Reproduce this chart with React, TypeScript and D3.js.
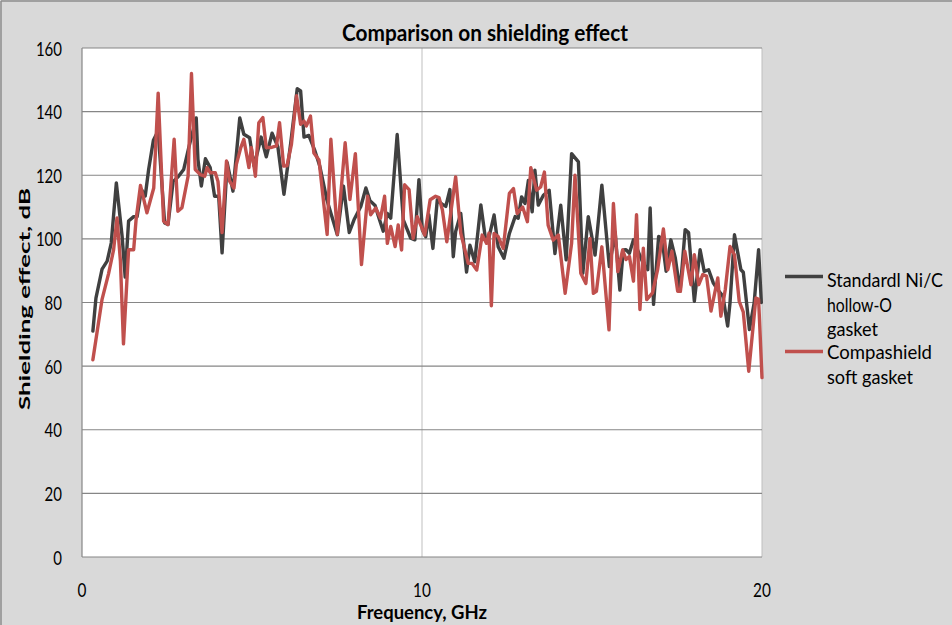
import React from "react";
import * as d3 from "d3";

const titleText = "Comparison on shielding effect";
const xTitle = "Frequency, GHz";
const yTitle = "Shielding effect, dB";
const yTicks = [0, 20, 40, 60, 80, 100, 120, 140, 160];
const xTicks = [0, 10, 20];
const seriesNames = [["Standardl Ni/C", "hollow-O", "gasket"], ["Compashield", "soft gasket"]];
const legendWidths = [[116, 65, 51], [105, 86]];
const seriesColors = ["#404040", "#c0504d"];

// Standard Ni/C hollow-O gasket: [GHz, dB]
const standardData: [number, number][] = [
  [0.32, 71], [0.41, 81.4], [0.59, 90.5], [0.74, 93], [0.86, 98.7], [1.01, 117.6], [1.18, 100.8],
  [1.27, 88], [1.37, 105.6], [1.52, 107], [1.62, 107], [1.75, 115.5], [1.86, 113.5], [1.96, 121.8],
  [2.1, 131], [2.24, 134], [2.43, 105], [2.53, 104.5], [2.68, 118], [2.84, 119.7], [2.99, 121.8],
  [3.14, 128.7], [3.36, 138], [3.41, 125], [3.51, 116.6], [3.63, 125.2], [3.77, 122.4], [3.9, 113.4],
  [4.02, 113.4], [4.12, 95.6], [4.27, 124], [4.44, 115], [4.64, 138], [4.76, 132.9], [4.93, 131.8],
  [5.06, 122.9], [5.27, 132], [5.42, 125.8], [5.59, 133.2], [5.76, 129], [5.94, 114], [6.14, 130.2],
  [6.33, 147.2], [6.43, 146.5], [6.53, 132], [6.67, 132.5], [6.84, 128], [6.99, 123], [7.2, 112.4],
  [7.51, 101.3], [7.69, 116.6], [7.86, 102], [8.0, 106], [8.2, 110.2], [8.35, 116], [8.47, 112],
  [8.62, 110.5], [8.72, 107], [8.86, 102.4], [8.98, 108], [9.08, 106.5], [9.27, 132.8], [9.45, 106],
  [9.67, 100.2], [9.79, 99.7], [9.91, 118.6], [10.01, 102.8], [10.11, 100.7], [10.2, 107.6],
  [10.32, 97], [10.45, 112.3], [10.58, 111], [10.7, 110.2], [10.82, 115.5], [10.92, 94.4],
  [10.99, 102.3], [11.14, 108], [11.31, 89.6], [11.41, 98], [11.55, 92.8], [11.73, 110.7],
  [11.87, 99.7], [11.97, 100.5], [12.12, 107.5], [12.24, 97.5], [12.41, 93.9], [12.57, 101.7],
  [12.74, 107], [12.83, 106.5], [12.93, 113.2], [13.03, 111.1], [13.13, 118.4], [13.24, 108.5],
  [13.32, 121.6], [13.42, 110.6], [13.57, 113.7], [13.74, 115.3], [13.91, 95.4], [14.08, 110.6],
  [14.24, 93.4], [14.4, 126.8], [14.6, 124.2], [14.73, 89.2], [14.89, 107], [15.09, 94.9],
  [15.29, 116.9], [15.51, 91.3], [15.68, 102], [15.82, 83.9], [15.92, 96.5], [16.0, 96.6],
  [16.1, 95.5], [16.22, 99.7], [16.4, 95], [16.52, 92], [16.64, 90.3], [16.71, 109.7], [16.81, 79.4],
  [16.96, 100.8], [17.06, 100], [17.18, 89.8], [17.32, 99.7], [17.45, 94], [17.59, 83.5],
  [17.74, 102.9], [17.84, 102], [18.01, 80.4], [18.18, 96.6], [18.3, 89.8], [18.43, 90.3],
  [18.57, 86.1], [18.7, 84], [18.85, 82], [18.99, 72.6], [19.06, 80], [19.19, 101.3], [19.38, 90.3],
  [19.45, 89.5], [19.63, 71.5], [19.77, 79.9], [19.9, 96.6], [19.98, 80]
];

// Compashield soft gasket: [GHz, dB]
const compashieldData: [number, number][] = [
  [0.32, 62], [0.59, 81], [0.78, 89], [0.93, 96.6], [1.03, 106.6], [1.13, 93], [1.22, 67],
  [1.37, 96.6], [1.52, 96.6], [1.59, 106], [1.72, 116.8], [1.91, 108.2], [2.11, 116], [2.24, 145.8],
  [2.4, 105.6], [2.53, 104.5], [2.71, 131.3], [2.82, 108.7], [2.94, 109.8], [3.12, 119.7],
  [3.22, 152], [3.33, 121.8], [3.48, 120.2], [3.61, 119.7], [3.68, 122.4], [3.77, 120.8],
  [3.92, 120.8], [4.0, 118], [4.12, 102], [4.25, 124.5], [4.34, 118.2], [4.47, 116], [4.54, 123.4],
  [4.67, 128.7], [4.76, 131.3], [4.91, 122.4], [4.98, 128.7], [5.1, 119.7], [5.2, 136.5],
  [5.32, 138.1], [5.42, 128.7], [5.55, 128.7], [5.72, 129.2], [5.81, 136.5], [5.93, 122.9],
  [6.03, 123], [6.16, 129.7], [6.31, 145], [6.43, 136], [6.53, 137], [6.6, 135.5], [6.72, 138.6],
  [6.82, 127], [6.97, 124.8], [7.21, 101.4], [7.32, 131.3], [7.51, 101.4], [7.74, 130.2],
  [7.88, 112.4], [8.04, 126.8], [8.22, 91.9], [8.4, 113.4], [8.49, 107.6], [8.64, 109.7],
  [8.78, 106.5], [8.9, 113.4], [8.98, 98.6], [9.08, 103.9], [9.21, 97.6], [9.3, 104.4], [9.4, 96.5],
  [9.49, 117], [9.62, 115.5], [9.74, 100.2], [9.86, 107], [9.96, 104.4], [10.08, 101.2],
  [10.24, 112.3], [10.4, 113.4], [10.5, 113], [10.6, 109.1], [10.73, 99.1], [10.99, 119.5],
  [11.14, 101.8], [11.36, 92.3], [11.47, 92.3], [11.61, 90.2], [11.77, 101.2], [11.9, 98.6],
  [11.97, 101.8], [12.04, 79], [12.12, 101.7], [12.24, 100.7], [12.39, 97], [12.57, 114.3],
  [12.69, 115.8], [12.8, 108], [12.96, 110], [13.1, 105.4], [13.2, 122.4], [13.37, 115.3],
  [13.49, 116.3], [13.6, 121], [13.71, 104.3], [13.86, 99.6], [14.01, 101.2], [14.21, 82.9],
  [14.4, 98.6], [14.5, 120], [14.67, 89.2], [14.82, 86], [14.94, 100.1], [15.04, 82.9],
  [15.13, 83.5], [15.29, 97.5], [15.5, 71.4], [15.63, 111.1], [15.76, 89.7], [15.9, 96.5],
  [16.0, 93.5], [16.1, 94.5], [16.22, 86.7], [16.31, 107.6], [16.41, 77.8], [16.51, 97.1],
  [16.61, 80.9], [16.78, 83], [16.93, 90.3], [17.1, 103.1], [17.23, 90.3], [17.35, 96.1],
  [17.52, 83.5], [17.6, 83.5], [17.73, 96.1], [17.91, 85.6], [18.01, 95], [18.14, 85.6],
  [18.26, 88.8], [18.37, 88.3], [18.5, 77.3], [18.7, 87.7], [18.79, 75.7], [18.92, 84.1],
  [19.06, 97.6], [19.19, 95], [19.33, 80.4], [19.45, 77], [19.61, 58.4], [19.82, 81.4],
  [19.9, 81], [20.0, 56.4]
];

const W = 952;
const H = 625;
const plot = { left: 82, right: 762, top: 48, bottom: 557 };
const font = "Lato, 'Open Sans', sans-serif";

export default function App() {
  const x = d3.scaleLinear().domain([0, 20]).range([plot.left, plot.right]);
  const y = d3.scaleLinear().domain([0, 160]).range([plot.bottom, plot.top]);
  const line = d3
    .line<[number, number]>()
    .x((d) => x(d[0]))
    .y((d) => y(d[1]));
  const series = [standardData, compashieldData];

  return (
    <svg
      width={W}
      height={H}
      style={{ position: "fixed", left: 0, top: 0, display: "block" }}
      fontFamily={font}
    >
      <rect x={0} y={0} width={W} height={H} fill="#d9d9d9" />
      <line x1={1} y1={1} x2={W} y2={1} stroke="#8c8c8c" strokeWidth={1.5} />
      <line x1={1} y1={1} x2={1} y2={H} stroke="#8c8c8c" strokeWidth={1.5} />
      <rect
        x={plot.left}
        y={plot.top}
        width={plot.right - plot.left}
        height={plot.bottom - plot.top}
        fill="#ffffff"
      />
      {xTicks.slice(1).map((t) => (
        <line key={"vx" + t} x1={x(t)} x2={x(t)} y1={plot.top} y2={plot.bottom} stroke="#bfbfbf" strokeWidth={1} />
      ))}
      {yTicks.slice(1).map((t) => (
        <line key={"gy" + t} x1={plot.left} x2={plot.right} y1={y(t)} y2={y(t)} stroke="#868686" strokeWidth={1.2} />
      ))}
      <line x1={plot.left} x2={plot.left} y1={plot.top} y2={plot.bottom} stroke="#868686" strokeWidth={1.2} />
      <line x1={plot.left} x2={plot.right} y1={plot.bottom} y2={plot.bottom} stroke="#868686" strokeWidth={1.2} />
      {series.map((s, i) => (
        <path
          key={"s" + i}
          d={line(s) || ""}
          fill="none"
          stroke={seriesColors[i]}
          strokeWidth={3.4}
          strokeLinejoin="round"
          strokeLinecap="round"
        />
      ))}
      {yTicks.map((t) => {
        const s = String(t);
        return (
          <text
            key={"ty" + t}
            x={62}
            y={y(t) + 7.5}
            textAnchor="end"
            fontSize={20}
            textLength={s.length * 8.7}
            lengthAdjust="spacingAndGlyphs"
            fill="#000"
          >
            {s}
          </text>
        );
      })}
      {xTicks.map((t) => {
        const s = String(t);
        return (
          <text
            key={"tx" + t}
            x={x(t)}
            y={596.5}
            textAnchor="middle"
            fontSize={19}
            textLength={s.length * 8.9}
            lengthAdjust="spacingAndGlyphs"
            fill="#000"
          >
            {s}
          </text>
        );
      })}
      <text
        x={485}
        y={41}
        textAnchor="middle"
        fontSize={22}
        fontWeight="bold"
        textLength={286}
        lengthAdjust="spacingAndGlyphs"
        fill="#000"
      >
        {titleText}
      </text>
      <text
        x={422}
        y={619}
        textAnchor="middle"
        fontSize={18.5}
        fontWeight="bold"
        textLength={130}
        lengthAdjust="spacingAndGlyphs"
        fill="#000"
      >
        {xTitle}
      </text>
      <text
        transform={`translate(30, 299) rotate(-90)`}
        textAnchor="middle"
        fontSize={16}
        fontWeight="bold"
        textLength={222}
        lengthAdjust="spacingAndGlyphs"
        fill="#000"
      >
        {yTitle}
      </text>
      {seriesNames.map((names, i) => {
        const lineY = i === 0 ? 276.5 : 351.5;
        const baseY = i === 0 ? 287 : 359;
        return (
          <g key={"lg" + i}>
            <line x1={785} x2={823} y1={lineY} y2={lineY} stroke={seriesColors[i]} strokeWidth={3.4} />
            {names.map((n, j) => (
              <text
                key={n}
                x={827}
                y={baseY + j * 24.5}
                fontSize={19}
                textLength={legendWidths[i][j]}
                lengthAdjust="spacingAndGlyphs"
                fill="#000"
              >
                {n}
              </text>
            ))}
          </g>
        );
      })}
    </svg>
  );
}
